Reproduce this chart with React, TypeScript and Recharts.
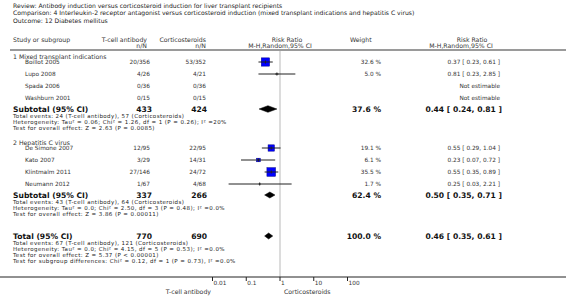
import React from "react";
import {
  ComposedChart,
  Scatter,
  ErrorBar,
  Area,
  XAxis,
  YAxis,
  ReferenceLine
} from "recharts";

// ---- data ----
const titleLines = [
  "Review:  Antibody induction versus corticosteroid induction for liver transplant recipients",
  "Comparison:  4 Interleukin-2 receptor antagonist versus corticosteroid induction (mixed transplant indications and hepatitis C virus)",
  "Outcome:  12 Diabetes mellitus"
];

const groupNames = ["1 Mixed transplant indications", "2 Hepatitis C virus"];

const g1Studies = ["Boillot 2005", "Lupo 2008", "Spada 2006", "Washburn 2001"];
const g1Tcell = ["20/356", "4/26", "0/36", "0/15"];
const g1Cort = ["53/352", "4/21", "0/36", "0/15"];
const g1Weight = [32.6, 5.0, null, null];
const g1RR = [0.37, 0.81, null, null];
const g1Lo = [0.23, 0.23, null, null];
const g1Hi = [0.61, 2.85, null, null];

const g2Studies = ["De Simone 2007", "Kato 2007", "Klintmalm 2011", "Neumann 2012"];
const g2Tcell = ["12/95", "3/29", "27/146", "1/67"];
const g2Cort = ["22/95", "14/31", "24/72", "4/68"];
const g2Weight = [19.1, 6.1, 35.5, 1.7];
const g2RR = [0.55, 0.23, 0.55, 0.25];
const g2Lo = [0.29, 0.07, 0.35, 0.03];
const g2Hi = [1.04, 0.72, 0.89, 2.21];

// subtotal 1, subtotal 2, overall total
const pooledLabels = ["Subtotal (95% CI)", "Subtotal (95% CI)", "Total (95% CI)"];
const pooledTcell = ["433", "337", "770"];
const pooledCort = ["424", "266", "690"];
const pooledWeight = [37.6, 62.4, 100.0];
const pooledRR = [0.44, 0.5, 0.46];
const pooledLo = [0.24, 0.35, 0.35];
const pooledHi = [0.81, 0.71, 0.61];

const pooledNotes = [
  [
    "Total events: 24 (T-cell antibody), 57 (Corticosteroids)",
    "Heterogeneity: Tau\u00b2 = 0.06; Chi\u00b2 = 1.26, df = 1 (P = 0.26); I\u00b2 =20%",
    "Test for overall effect: Z = 2.63 (P = 0.0085)"
  ],
  [
    "Total events: 43 (T-cell antibody), 64 (Corticosteroids)",
    "Heterogeneity: Tau\u00b2 = 0.0; Chi\u00b2 = 2.50, df = 3 (P = 0.48); I\u00b2 =0.0%",
    "Test for overall effect: Z = 3.86 (P = 0.00011)"
  ],
  [
    "Total events: 67 (T-cell antibody), 121 (Corticosteroids)",
    "Heterogeneity: Tau\u00b2 = 0.0; Chi\u00b2 = 4.15, df = 5 (P = 0.53); I\u00b2 =0.0%",
    "Test for overall effect: Z = 5.37 (P < 0.00001)",
    "Test for subgroup differences: Chi\u00b2 = 0.12, df = 1 (P = 0.73), I\u00b2 =0.0%"
  ]
];

const xTicks = [0.01, 0.1, 1, 10, 100];

// ---- layout (row centres, px) ----
const W = 566;
const H = 296;
const AXIS_H = 19;
const PLOT_H = H - AXIS_H;
const X_MIN = Math.pow(10, -280 / 33.75);
const X_MAX = Math.pow(10, 286 / 33.75);

const groupHeadY = [56, 142];
const g1RowY = [62, 74, 86, 98];
const g2RowY = [148, 160, 172, 184];
const pooledY = [109, 195, 236];
const NOTE_GAP = 6;

const COL_TCELL = 150;
const COL_CORT = 206;
const COL_WEIGHT = 381;
const COL_CI = 500;

const fmt = (v: number) => v.toFixed(2);
const ciText = (r: number, l: number, h: number) => `${fmt(r)} [ ${fmt(l)}, ${fmt(h)} ]`;

type StudyPoint = { x: number; y: number; w: number; err: [number, number] };

function studyPoints(rowY: number[], rr: (number | null)[], lo: (number | null)[], hi: (number | null)[], wt: (number | null)[]) {
  const out: StudyPoint[] = [];
  rr.forEach((r, i) => {
    if (r == null) return;
    out.push({ x: r, y: rowY[i], w: wt[i] as number, err: [r - (lo[i] as number), (hi[i] as number) - r] });
  });
  return out;
}

const studyData = [
  ...studyPoints(g1RowY, g1RR, g1Lo, g1Hi, g1Weight),
  ...studyPoints(g2RowY, g2RR, g2Lo, g2Hi, g2Weight)
];

const diamondHalf = [3.3, 3, 3];
const diamonds = pooledRR.map((r, i) => [
  { x: pooledLo[i], band: [pooledY[i], pooledY[i]] },
  { x: r, band: [pooledY[i] - diamondHalf[i], pooledY[i] + diamondHalf[i]] },
  { x: pooledHi[i], band: [pooledY[i], pooledY[i]] }
]);

const StudyMark = (props: any) => {
  const { cx, cy, payload } = props;
  const s = Math.max(1, 1.45 * Math.sqrt(payload.w));
  return (
    <g>
      {payload.w > 5.5 && (
        <rect x={cx - s / 2} y={cy - s / 2} width={s} height={s} fill="#0000ff" stroke="#00008a" strokeWidth={0.5} />
      )}
      <line x1={cx - s / 2} x2={cx + s / 2} y1={cy} y2={cy} stroke="#222" strokeWidth={1} />
      <line x1={cx} x2={cx} y1={cy - 1.5} y2={cy + 1.5} stroke="#222" strokeWidth={1} />
    </g>
  );
};

const FONT = "'DejaVu Sans', Verdana, sans-serif";

function T({ x, y, children, anchor = "start", size = 5.8, bold = false, fill = "#333", spacing = 0 }: any) {
  return (
    <text
      x={x}
      y={y}
      textAnchor={anchor}
      dominantBaseline="central"
      fontSize={size}
      fontWeight={bold ? "bold" : "normal"}
      fill={fill}
      fontFamily={FONT}
      letterSpacing={spacing}
    >
      {children}
    </text>
  );
}

function StudyRows({ names, tcell, cort, wt, rr, lo, hi, rowY }: any) {
  return (
    <>
      {names.map((n: string, i: number) => (
        <g key={n}>
          <T x={25} y={rowY[i]} size={5.8}>{n}</T>
          <T x={COL_TCELL} y={rowY[i]} anchor="end" size={5.8}>{tcell[i]}</T>
          <T x={COL_CORT} y={rowY[i]} anchor="end" size={5.8}>{cort[i]}</T>
          {rr[i] != null ? (
            <>
              <T x={COL_WEIGHT} y={rowY[i]} anchor="end" size={5.8}>{wt[i].toFixed(1)} %</T>
              <T x={COL_CI} y={rowY[i]} anchor="end" size={5.8}>{ciText(rr[i], lo[i], hi[i])}</T>
            </>
          ) : (
            <T x={COL_CI} y={rowY[i]} anchor="end" size={5.8}>Not estimable</T>
          )}
        </g>
      ))}
    </>
  );
}

export default function App() {
  return (
    <div style={{ position: "absolute", left: 0, top: 0, width: W, height: H, background: "#fff" }}>
      <ComposedChart width={W} height={H} margin={{ top: 0, right: 0, bottom: 0, left: 0 }}>
        <XAxis
          dataKey="x"
          type="number"
          scale="log"
          domain={[X_MIN, X_MAX]}
          allowDataOverflow
          ticks={xTicks}
          height={AXIS_H}
          tickSize={4}
          tickMargin={0}
          stroke="#222"
          tick={{ fontSize: 5.8, fill: "#333", textAnchor: "start", dx: 1, fontFamily: FONT }}
        />
        <YAxis dataKey="y" type="number" domain={[0, PLOT_H]} reversed hide allowDataOverflow />
        <ReferenceLine
          segment={[{ x: 1, y: 51 }, { x: 1, y: PLOT_H }]}
          stroke="#dcdcdc"
          strokeWidth={2}
        />
        {diamonds.map((d, i) => (
          <Area
            key={i}
            data={d}
            dataKey="band"
            type="linear"
            stroke="#000"
            strokeWidth={0.5}
            fill="#000"
            fillOpacity={1}
            dot={false}
            activeDot={false}
            isAnimationActive={false}
          />
        ))}
        <Scatter data={studyData} shape={StudyMark} isAnimationActive={false}>
          <ErrorBar dataKey="err" direction="x" width={0} stroke="#222" strokeWidth={1} />
        </Scatter>
      </ComposedChart>

      <svg width={W} height={H} style={{ position: "absolute", left: 0, top: 0, pointerEvents: "none" }}>
        {titleLines.map((t, i) => (
          <T key={t} x={13} y={5 + i * 7.5} size={6.1} fill="#222">{t}</T>
        ))}

        <T x={13} y={39} size={6.2}>Study or subgroup</T>
        <T x={COL_TCELL - 3} y={39} anchor="end" size={6.2}>T-cell antibody</T>
        <T x={COL_TCELL - 3} y={45} anchor="end" size={6.2}>n/N</T>
        <T x={COL_CORT} y={39} anchor="end" size={6.2}>Corticosteroids</T>
        <T x={COL_CORT} y={45} anchor="end" size={6.2}>n/N</T>
        <T x={287} y={39} anchor="middle" size={6.2}>Risk Ratio</T>
        <T x={280} y={45} anchor="middle" size={6.2}>M-H,Random,95% CI</T>
        <T x={350} y={39} size={6.2}>Weight</T>
        <T x={472} y={39} anchor="middle" size={6.2}>Risk Ratio</T>
        <T x={461} y={45} anchor="middle" size={6.2}>M-H,Random,95% CI</T>
        <line x1={10} x2={W} y1={50} y2={50} stroke="#9a9a9a" strokeWidth={2} />

        {groupNames.map((g, i) => (
          <T key={g} x={13} y={groupHeadY[i]} size={6.2}>{g}</T>
        ))}

        <StudyRows names={g1Studies} tcell={g1Tcell} cort={g1Cort} wt={g1Weight} rr={g1RR} lo={g1Lo} hi={g1Hi} rowY={g1RowY} />
        <StudyRows names={g2Studies} tcell={g2Tcell} cort={g2Cort} wt={g2Weight} rr={g2RR} lo={g2Lo} hi={g2Hi} rowY={g2RowY} />

        {pooledLabels.map((lab, i) => (
          <g key={i}>
            <T x={13} y={pooledY[i]} size={7.6} bold fill="#111">{lab}</T>
            <T x={COL_TCELL + 2} y={pooledY[i]} anchor="end" size={7.6} bold fill="#111">{pooledTcell[i]}</T>
            <T x={COL_CORT + 1} y={pooledY[i]} anchor="end" size={7.6} bold fill="#111">{pooledCort[i]}</T>
            <T x={COL_WEIGHT} y={pooledY[i]} anchor="end" size={7.6} bold fill="#111">{pooledWeight[i].toFixed(1)} %</T>
            <T x={COL_CI + 2} y={pooledY[i]} anchor="end" size={7.6} bold fill="#111">
              {ciText(pooledRR[i], pooledLo[i], pooledHi[i])}
            </T>
            {pooledNotes[i].map((n, j) => (
              <T key={n} x={13} y={pooledY[i] + 6.5 + j * NOTE_GAP} size={5.5} spacing={0.42} fill="#222">{n}</T>
            ))}
          </g>
        ))}

        <T x={211} y={291} anchor="end" size={6.2}>T-cell antibody</T>
        <T x={284} y={291} size={6.2}>Corticosteroids</T>
      </svg>
    </div>
  );
}
